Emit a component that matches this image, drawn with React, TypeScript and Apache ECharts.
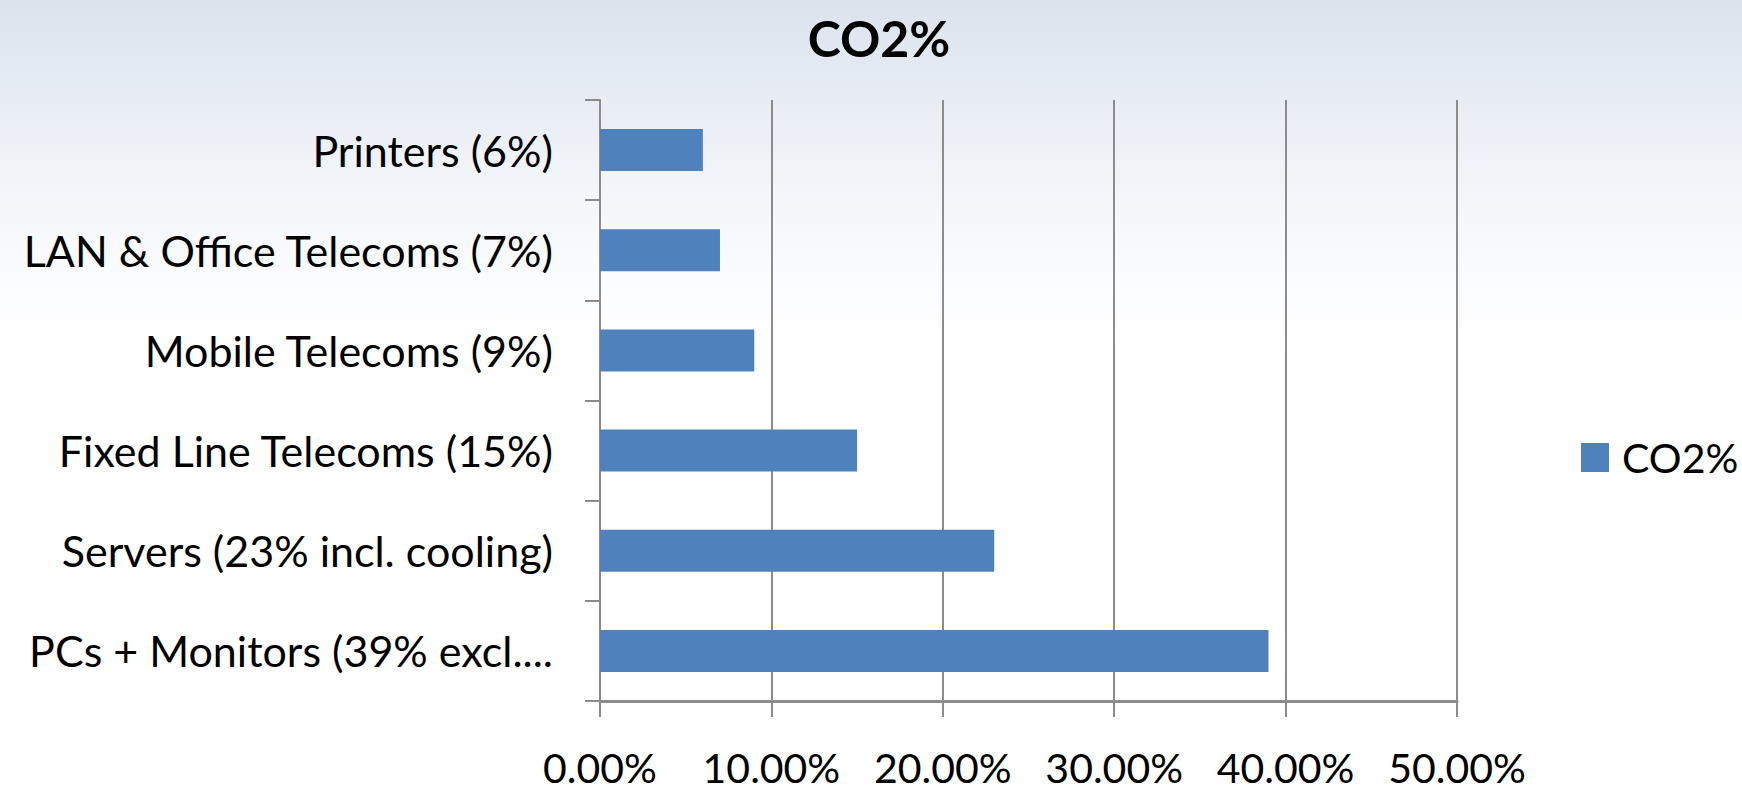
import React, { useEffect, useRef } from "react";
import * as echarts from "echarts";

const categories = [
  "PCs + Monitors (39% excl....",
  "Servers (23% incl. cooling)",
  "Fixed Line Telecoms (15%)",
  "Mobile Telecoms (9%)",
  "LAN & Office Telecoms (7%)",
  "Printers (6%)",
];
const co2Values = [0.39, 0.23, 0.15, 0.09, 0.07, 0.06];
const seriesName = "CO2%";
const titleText = "CO2%";

const FONT = "Lato";

export default function App() {
  const ref = useRef<HTMLDivElement>(null);
  useEffect(() => {
    if (!ref.current) return;
    const chart = echarts.init(ref.current, null, { renderer: "svg" });
    chart.setOption({
      animation: false,
      backgroundColor: {
        type: "linear",
        x: 0,
        y: 0,
        x2: 0,
        y2: 1,
        colorStops: [
          { offset: 0, color: "#dbe3ed" },
          { offset: 0.1, color: "#e5ebf3" },
          { offset: 0.22, color: "#f1f4f9" },
          { offset: 0.35, color: "#fbfcfe" },
          { offset: 0.45, color: "#ffffff" },
          { offset: 1, color: "#ffffff" },
        ],
      },
      title: {
        text: titleText,
        left: 874,
        top: 8,
        textAlign: "center",
        textStyle: { fontFamily: FONT, fontWeight: "bold", fontSize: 50, color: "#000" },
      },
      legend: {
        data: [seriesName],
        orient: "vertical",
        left: 1576,
        top: 432,
        itemWidth: 28,
        itemHeight: 29,
        itemGap: 10,
        icon: "rect",
        textStyle: { fontFamily: FONT, fontSize: 41, color: "#000", padding: [0, 0, 0, 8] },
      },
      grid: { left: 600, right: 285, top: 100, bottom: 94, containLabel: false },
      xAxis: {
        type: "value",
        min: 0,
        max: 0.5,
        interval: 0.1,
        axisLine: { show: true, lineStyle: { color: "#8c8c8c", width: 3 } },
        axisTick: { show: true, length: 16, lineStyle: { color: "#8c8c8c", width: 2 } },
        splitLine: { show: true, lineStyle: { color: "#8c8c8c", width: 2 } },
        axisLabel: {
          margin: 46,
          fontFamily: FONT,
          fontSize: 41,
          lineHeight: 41,
          color: "#000",
          formatter: (v: number) => (v * 100).toFixed(2) + "%",
        },
      },
      yAxis: {
        type: "category",
        data: categories,
        axisLine: { show: true, lineStyle: { color: "#8c8c8c", width: 2 } },
        axisTick: { show: true, length: 15, lineStyle: { color: "#8c8c8c", width: 2 } },
        axisLabel: { margin: 47, fontFamily: FONT, fontSize: 43, color: "#000" },
      },
      series: [
        {
          name: seriesName,
          type: "bar",
          data: co2Values,
          barWidth: 42,
          itemStyle: { color: "#4f81bd" },
        },
      ],
    });
    return () => chart.dispose();
  }, []);
  return (
    <div
      ref={ref}
      style={{ position: "fixed", left: 0, top: 0, width: 1742, height: 795 }}
    />
  );
}
